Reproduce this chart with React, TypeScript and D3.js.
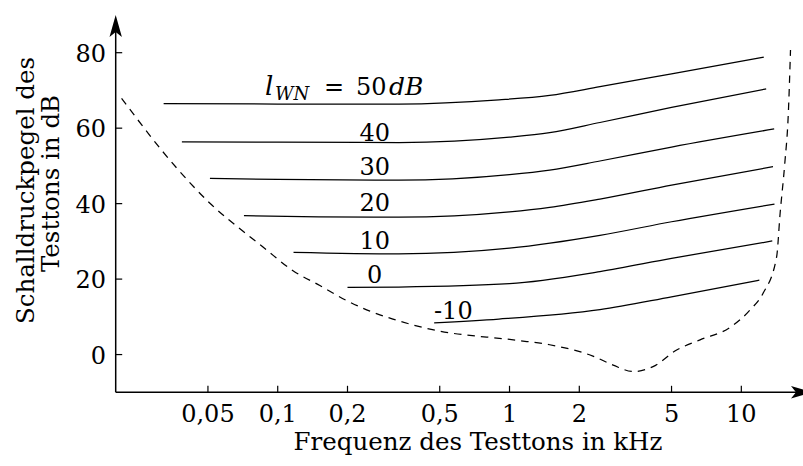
import React from "react";
import * as d3 from "d3";

// Frequency ticks (kHz) and their printed labels
const xTickValues = [0.05, 0.1, 0.2, 0.5, 1, 2, 5, 10];
const xTickLabels = ["0,05", "0,1", "0,2", "0,5", "1", "2", "5", "10"];
const yTickValues = [0, 20, 40, 60, 80];

// Masked thresholds for test tones under white noise of level l_WN (dB)
const noiseLevels = [50, 40, 30, 20, 10, 0, -10];
const curve50: [number, number][] = [[0.0322, 66.5], [0.1, 66.4], [0.333, 66.4], [0.9, 67.5], [1.49, 68.7], [2.455, 71.0], [5, 74.4], [12.5, 78.8]];
const curve40: [number, number][] = [[0.0386, 56.4], [0.1, 56.3], [0.333, 56.2], [1.0, 57.6], [1.49, 58.8], [2.455, 61.5], [5, 65.5], [12.8, 70.4]];
const curve30: [number, number][] = [[0.051, 46.7], [0.1, 46.4], [0.333, 46.2], [1.0, 47.7], [1.49, 48.9], [2.455, 51.3], [5, 55.0], [13.86, 59.8]];
const curve20: [number, number][] = [[0.0715, 36.8], [0.15, 36.5], [0.333, 36.4], [1.0, 37.8], [1.49, 39.0], [2.455, 41.2], [5, 44.9], [13.7, 49.8]];
const curve10: [number, number][] = [[0.117, 27.1], [0.333, 26.7], [1.0, 28.2], [2.455, 31.6], [5, 35.2], [13.9, 39.9]];
const curve0: [number, number][] = [[0.2, 17.8], [0.333, 17.9], [1.0, 18.8], [2.455, 22.0], [5, 25.5], [13.6, 30.1]];
const curveM10: [number, number][] = [[0.473, 8.4], [0.9, 9.4], [2.455, 11.9], [5, 15.3], [11.96, 19.7]];
const maskedCurves = [curve50, curve40, curve30, curve20, curve10, curve0, curveM10];

// Threshold in quiet (dashed)
const quietThreshold: [number, number][] = [
  [0.0212, 67.9], [0.0367, 49.4], [0.051, 40.1], [0.0711, 32.6], [0.0864, 28.5],
  [0.1164, 22.2], [0.152, 18.3], [0.1985, 14.3], [0.25, 11.5], [0.314, 9.4],
  [0.465, 6.6], [1.07, 3.8], [1.49, 2.6], [2.29, -0.4], [2.8, -2.8],
  [3.42, -4.5], [4.16, -3.2], [5.26, 1.2], [6.64, 3.9], [8.94, 7.2],
  [10.9, 11.8], [12.4, 16.2], [14.2, 25.9], [14.7, 37.4], [15.4, 50.7],
  [15.95, 63.9], [16.3, 80.7],
];

const W = 803;
const H = 466;
const numFont = 24;
const textFont = 24.5;
const family = "'DejaVu Serif', serif";

export default function App() {
  const x = d3.scaleLog().domain([0.02, 20]).range([115.7, 811.1]);
  const y = d3.scaleLinear().domain([-10, 80]).range([392.3, 52.7]);

  const line = d3
    .line<[number, number]>()
    .x((d) => x(d[0]))
    .y((d) => y(d[1]))
    .curve(d3.curveMonotoneX);

  const x0 = x(0.02);
  const yAxisY = y(-10);
  const yTop = 15;
  const xRight = 813;

  // label anchor positions in data space
  const labelX = 0.262;
  const labelY = [null, 56.5, 47.5, 38, 28, 19, null];

  return (
    <svg
      width={W}
      height={H}
      style={{ position: "absolute", left: 0, top: 0, background: "#fff", fontFamily: family }}
    >
      <rect width={W} height={H} fill="#fff" />

      {/* axes */}
      <line x1={x0} y1={yAxisY} x2={x0} y2={yTop + 12} stroke="#000" strokeWidth={1.5} />
      <path
        d={`M${x0},${yTop} L${x0 + 6.2},${yTop + 22} L${x0},${yTop + 17} L${x0 - 6.2},${yTop + 22} Z`}
        fill="#000"
      />
      <line x1={x0} y1={yAxisY} x2={xRight - 12} y2={yAxisY} stroke="#000" strokeWidth={1.5} />
      <path
        d={`M${xRight},${yAxisY} L${xRight - 22},${yAxisY - 6.2} L${xRight - 17},${yAxisY} L${xRight - 22},${yAxisY + 6.2} Z`}
        fill="#000"
      />

      {/* y ticks */}
      {yTickValues.map((v) => (
        <g key={"y" + v}>
          <line x1={x0} x2={x0 + 6.5} y1={y(v)} y2={y(v)} stroke="#000" strokeWidth={1.2} />
          <text x={106} y={y(v) + 9} fontSize={numFont} textAnchor="end">
            {v}
          </text>
        </g>
      ))}

      {/* x ticks */}
      {xTickValues.map((v, i) => (
        <g key={"x" + v}>
          <line x1={x(v)} x2={x(v)} y1={yAxisY} y2={yAxisY - 6.5} stroke="#000" strokeWidth={1.2} />
          <text x={x(v)} y={422} fontSize={numFont} textAnchor="middle">
            {xTickLabels[i]}
          </text>
        </g>
      ))}

      {/* axis titles */}
      <text x={478} y={450} fontSize={textFont} textAnchor="middle">
        Frequenz des Testtons in kHz
      </text>
      <text
        transform={`translate(34,190.5) rotate(-90)`}
        fontSize={textFont}
        textAnchor="middle"
      >
        Schalldruckpegel des
      </text>
      <text
        transform={`translate(59,183.5) rotate(-90)`}
        fontSize={textFont}
        textAnchor="middle"
      >
        Testtons in dB
      </text>

      {/* threshold in quiet */}
      <path
        d={line(quietThreshold) || ""}
        fill="none"
        stroke="#000"
        strokeWidth={1.25}
        strokeDasharray="7.5 6"
      />

      {/* masked threshold curves */}
      {maskedCurves.map((c, i) => (
        <path key={"c" + i} d={line(c) || ""} fill="none" stroke="#000" strokeWidth={1.25} />
      ))}

      {/* curve labels */}
      {noiseLevels.map((lv, i) =>
        labelY[i] === null ? null : (
          <text key={"l" + lv} x={x(labelX)} y={y(labelY[i] as number)} fontSize={numFont} textAnchor="middle">
            {lv}
          </text>
        )
      )}
      <text x={434} y={319.3} fontSize={numFont}>
        {String(noiseLevels[6])}
      </text>
      <g fontSize={numFont}>
        <text x={265} y={95} fontSize={26} fontStyle="italic">l</text>
        <text x={275} y={100} fontSize={18} fontStyle="italic">WN</text>
        <text x={324} y={95}>=</text>
        <text x={356} y={95}>{noiseLevels[0]}</text>
        <text x={389} y={95} fontSize={25} fontStyle="italic">dB</text>
      </g>
    </svg>
  );
}
